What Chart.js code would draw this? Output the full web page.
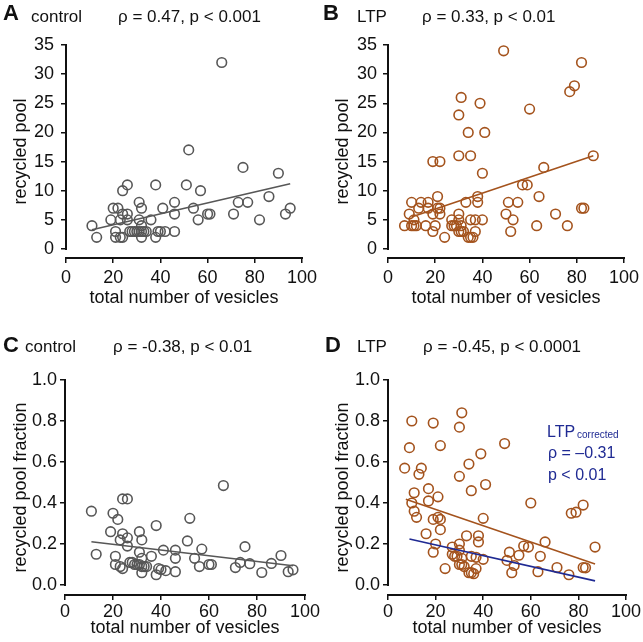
<!DOCTYPE html>
<html>
<head>
<meta charset="utf-8">
<script src="https://cdn.jsdelivr.net/npm/chart.js@4.4.1/dist/chart.umd.min.js"></script>
<style>
  html, body { margin: 0; padding: 0; background: #fff; }
  #wrap { position: relative; width: 643px; height: 642px; }
  #wrap canvas { position: absolute; }
</style>
</head>
<body>
<div id="wrap">
  <canvas id="pA" width="321" height="321" style="left:0;top:0"></canvas>
  <canvas id="pB" width="321" height="321" style="left:322px;top:0"></canvas>
  <canvas id="pC" width="321" height="321" style="left:0;top:321px"></canvas>
  <canvas id="pD" width="321" height="321" style="left:322px;top:321px"></canvas>
</div>
<script>
// control synapses: total vesicles, recycled pool, recycled fraction
const ctrlTotal = [11, 13, 19, 20, 21, 21, 22, 23, 23, 24, 24, 24, 26, 26, 26, 27, 28, 29, 30, 31,
  31, 31, 32, 32, 32, 32, 33, 34, 36, 38, 38, 39, 40, 42, 41, 46, 46, 46, 51, 52,
  54, 56, 57, 60, 61, 66, 71, 73, 75, 77, 82, 86, 90, 93, 95];
const ctrlPool = [4, 2, 5, 7, 3, 2, 7, 5, 2, 10, 6, 2, 11, 6, 5, 3, 3, 3, 3, 3,
  8, 5, 7, 4, 2, 3, 3, 3, 5, 11, 2, 3, 3, 3, 7, 8, 6, 3, 11, 17,
  7, 5, 10, 6, 6, 32, 6, 8, 14, 8, 5, 9, 13, 6, 7];
const ctrlFrac = [0.36, 0.15, 0.26, 0.35, 0.14, 0.10, 0.32, 0.22, 0.09, 0.42, 0.25, 0.08, 0.42, 0.23, 0.19, 0.11, 0.11, 0.10, 0.10, 0.10,
  0.26, 0.16, 0.22, 0.13, 0.06, 0.09, 0.09, 0.09, 0.14, 0.29, 0.05, 0.08, 0.075, 0.07, 0.17, 0.17, 0.13, 0.065, 0.215, 0.325,
  0.13, 0.09, 0.175, 0.10, 0.10, 0.485, 0.085, 0.11, 0.187, 0.104, 0.061, 0.105, 0.144, 0.065, 0.074];

// LTP synapses
const ltpTotal = [7, 9, 10, 10, 11, 12, 11, 13, 14, 16, 17, 17, 19, 19, 19, 22, 20, 21, 21, 22,
  22, 24, 27, 27, 28, 29, 30, 30, 31, 30, 30, 30, 31, 32, 31, 33, 34, 35, 34, 35,
  36, 35, 37, 37, 38, 38, 39, 40, 40, 41, 49, 50, 51, 52, 53, 55, 57, 59, 60, 63,
  64, 66, 71, 76, 77, 79, 82, 82, 83, 87];
const ltpPool = [4, 6, 8, 4, 4, 4, 5, 7, 8, 4, 8, 7, 6, 3, 15, 15, 4, 9, 7, 7,
  6, 2, 5, 4, 4, 4, 16, 23, 26, 6, 5, 3, 3, 3, 4, 8, 20, 16, 2, 2,
  2, 5, 5, 3, 9, 8, 25, 13, 5, 20, 34, 6, 8, 3, 5, 8, 11, 11, 24, 4,
  9, 14, 6, 4, 27, 28, 32, 7, 7, 16];
const ltpFrac = [0.57, 0.67, 0.80, 0.40, 0.36, 0.33, 0.45, 0.54, 0.57, 0.25, 0.47, 0.41, 0.32, 0.16, 0.79, 0.68, 0.20, 0.43, 0.33, 0.32,
  0.27, 0.08, 0.185, 0.15, 0.14, 0.14, 0.53, 0.77, 0.84, 0.20, 0.17, 0.10, 0.10, 0.09, 0.13, 0.24, 0.59, 0.46, 0.06, 0.06,
  0.055, 0.14, 0.135, 0.08, 0.24, 0.21, 0.64, 0.325, 0.125, 0.49, 0.69, 0.12, 0.16, 0.06, 0.095, 0.145, 0.19, 0.185, 0.40, 0.065,
  0.14, 0.21, 0.085, 0.05, 0.35, 0.355, 0.39, 0.085, 0.084, 0.185];

// regression line end points
const ctrlFitX = [11, 95];
const ctrlPoolFit = [3.3, 11.2];
const ctrlFracFit = [0.211, 0.094];
const ltpFitX = [10, 87];
const ltpPoolFit = [5.5, 16.0];
const ltpFracFitX = [7.5, 87];
const ltpFracFit = [0.418, 0.102];
const corrFitX = [9, 87];
const corrFracFit = [0.224, 0.02];

const xTicks = [0, 20, 40, 60, 80, 100];

const GREY = '#575757';
const BROWN = '#a4531d';
const BLUE = '#1f2a93';
const INK = '#111';

Chart.defaults.font.family = '"Liberation Sans", Arial, Helvetica, sans-serif';
Chart.defaults.color = INK;

function pts(xs, ys) {
  return xs.map((x, i) => ({ x: x, y: ys[i] }));
}

function circles(xs, ys, color) {
  return {
    data: pts(xs, ys),
    pointStyle: 'circle', pointRadius: 4.8, pointBorderWidth: 1.6,
    borderColor: color, backgroundColor: 'rgba(0,0,0,0)',
    pointBackgroundColor: 'rgba(0,0,0,0)', pointBorderColor: color
  };
}

function fit(xs, ys, color) {
  return {
    data: pts(xs, ys), showLine: true, pointRadius: 0,
    borderColor: color, borderWidth: 1.6, backgroundColor: color
  };
}

// axis lines: y only from 0 to max, x detached below
const axisLines = {
  id: 'axisLines',
  afterDraw(chart) {
    const { ctx, chartArea, scales } = chart;
    ctx.save();
    ctx.strokeStyle = INK;
    ctx.lineWidth = 2;
    ctx.beginPath();
    ctx.moveTo(chartArea.left, scales.y.getPixelForValue(0) + 1);
    ctx.lineTo(chartArea.left, scales.y.getPixelForValue(scales.y.max) - 1);
    ctx.moveTo(scales.x.getPixelForValue(0) - 1, chartArea.bottom);
    ctx.lineTo(scales.x.getPixelForValue(100) + 1, chartArea.bottom);
    ctx.stroke();
    ctx.restore();
  }
};

function textPlugin(items) {
  return {
    id: 'panelText',
    afterDraw(chart) {
      const ctx = chart.ctx;
      ctx.save();
      ctx.textAlign = 'left';
      ctx.textBaseline = 'alphabetic';
      items.forEach(t => {
        ctx.font = t.font;
        ctx.fillStyle = t.color || INK;
        ctx.fillText(t.text, t.x, t.y);
      });
      ctx.restore();
    }
  };
}

const FF = '"Liberation Sans", Arial, Helvetica, sans-serif';

function panel(id, g, datasets, yTitle, texts) {
  new Chart(document.getElementById(id), {
    type: 'scatter',
    data: { datasets: datasets },
    options: {
      responsive: false,
      animation: false,
      layout: { padding: { top: g.top, right: g.right, left: 0, bottom: 0 } },
      plugins: { legend: { display: false }, tooltip: { enabled: false } },
      scales: {
        x: {
          type: 'linear', min: 0, max: 100,
          afterBuildTicks: s => { s.ticks = xTicks.map(v => ({ value: v })); },
          afterFit: s => { s.height = g.xh; },
          ticks: { font: { size: 18 }, color: INK, padding: g.xpad, maxRotation: 0 },
          grid: { drawOnChartArea: false, drawTicks: true, tickLength: 5, color: INK, lineWidth: 1.5 },
          border: { display: false },
          title: { display: true, text: 'total number of vesicles', font: { size: 18 }, color: INK,
                   padding: { top: 0, bottom: g.xtpad } }
        },
        y: {
          type: 'linear', min: g.ymin, max: g.ymax,
          afterBuildTicks: s => {
            const out = [];
            for (let v = 0; v <= g.ymax + 1e-9; v += g.step) out.push({ value: Math.round(v * 100) / 100 });
            s.ticks = out;
          },
          afterFit: s => { s.width = g.left; },
          ticks: { font: { size: 18 }, color: INK, padding: g.ypad,
                   callback: v => g.step < 1 ? v.toFixed(1) : String(v) },
          grid: { drawOnChartArea: false, drawTicks: true, tickLength: 5, color: INK, lineWidth: 1.5 },
          border: { display: false },
          title: { display: true, text: yTitle, font: { size: 18 }, color: INK,
                   padding: { top: 10, bottom: 0 } }
        }
      }
    },
    plugins: [axisLines, textPlugin(texts)]
  });
}

const top1 = { top: 45, right: 16, left: 66, xh: 63, xpad: 4, xtpad: 12, ypad: 7, ymin: -1.544, ymax: 35, step: 5 };
const top2 = { top: 45, right: 17, left: 66, xh: 63, xpad: 4, xtpad: 12, ypad: 6, ymin: -1.544, ymax: 35, step: 5 };
const bot1 = { top: 59, right: 16, left: 65, xh: 47, xpad: 1, xtpad: 3, ypad: 3, ymin: -0.0488, ymax: 1.0, step: 0.2 };
const bot2 = { top: 59, right: 17, left: 66, xh: 47, xpad: 1, xtpad: 3, ypad: 3, ymin: -0.0488, ymax: 1.0, step: 0.2 };

const big = 'bold 22px ' + FF;
const mid = '17px ' + FF;

panel('pA', top1,
  [fit(ctrlFitX, ctrlPoolFit, GREY), circles(ctrlTotal, ctrlPool, GREY)],
  'recycled pool',
  [{ text: 'A', x: 3, y: 20, font: big },
   { text: 'control', x: 31, y: 22, font: mid },
   { text: 'ρ = 0.47, p < 0.001', x: 118, y: 22, font: mid }]);

panel('pB', top2,
  [fit(ltpFitX, ltpPoolFit, BROWN), circles(ltpTotal, ltpPool, BROWN)],
  'recycled pool',
  [{ text: 'B', x: 1, y: 20, font: big },
   { text: 'LTP', x: 35, y: 22, font: mid },
   { text: 'ρ = 0.33, p < 0.01', x: 100, y: 22, font: mid }]);

panel('pC', bot1,
  [fit(ctrlFitX, ctrlFracFit, GREY), circles(ctrlTotal, ctrlFrac, GREY)],
  'recycled pool fraction',
  [{ text: 'C', x: 3, y: 31, font: big },
   { text: 'control', x: 25, y: 31, font: mid },
   { text: 'ρ = -0.38, p < 0.01', x: 113, y: 31, font: mid }]);

panel('pD', bot2,
  [fit(ltpFracFitX, ltpFracFit, BROWN), fit(corrFitX, corrFracFit, BLUE), circles(ltpTotal, ltpFrac, BROWN)],
  'recycled pool fraction',
  [{ text: 'D', x: 3, y: 31, font: big },
   { text: 'LTP', x: 35, y: 31, font: mid },
   { text: 'ρ = -0.45, p < 0.0001', x: 101, y: 31, font: mid },
   { text: 'LTP', x: 225, y: 116, font: '16px ' + FF, color: BLUE },
   { text: 'corrected', x: 255, y: 117, font: '10px ' + FF, color: BLUE },
   { text: 'ρ = –0.31', x: 226, y: 137, font: '16px ' + FF, color: BLUE },
   { text: 'p < 0.01', x: 226, y: 159, font: '16px ' + FF, color: BLUE }]);
</script>
</body>
</html>
